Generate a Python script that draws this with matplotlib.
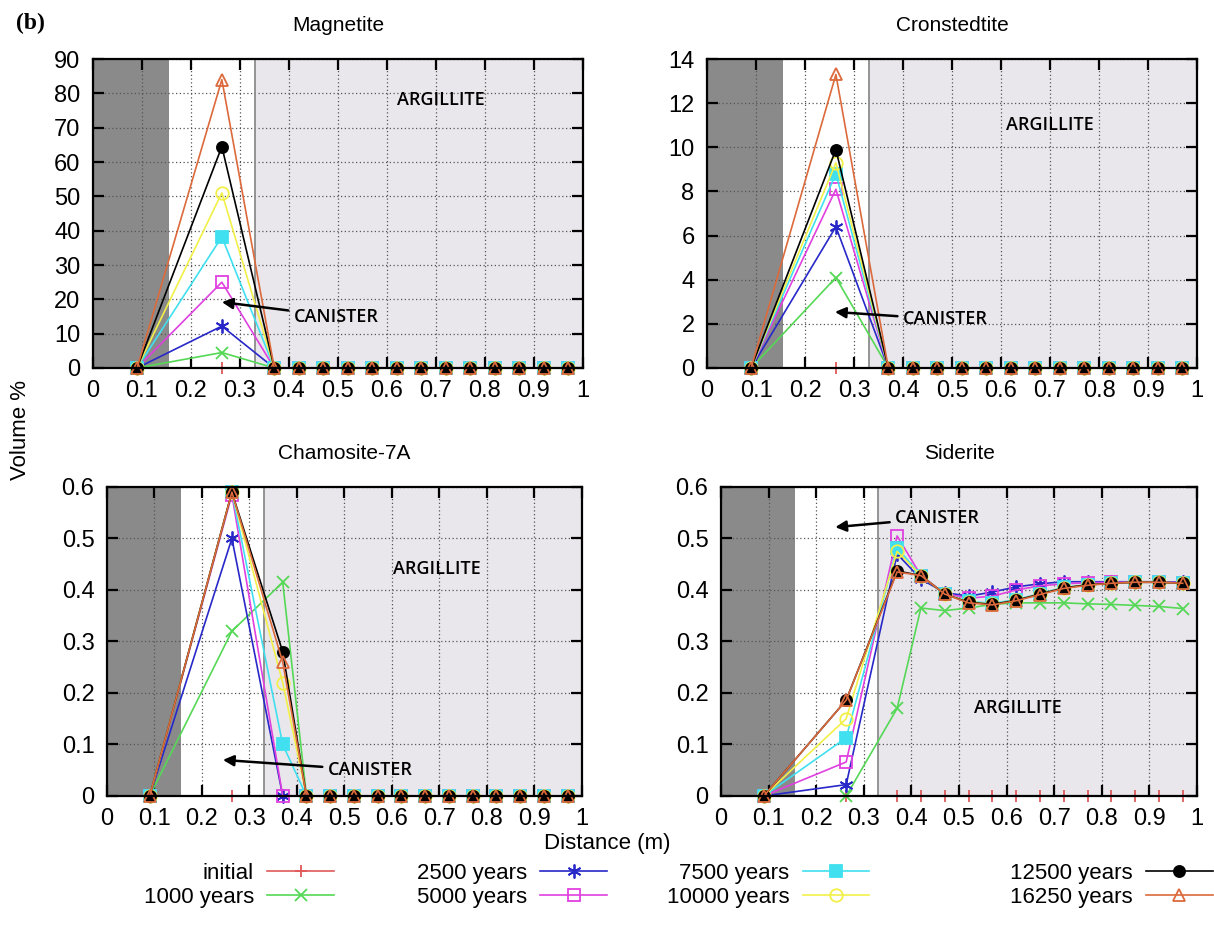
import matplotlib
matplotlib.use("Agg")
import matplotlib.pyplot as plt
import numpy as np

plt.rcParams['font.family'] = ['Liberation Sans', 'DejaVu Sans']

# ---------------- data ----------------
distance = [0.09, 0.263, 0.37, 0.42, 0.47, 0.52, 0.57, 0.62, 0.67, 0.72, 0.77, 0.82, 0.87, 0.92, 0.97]
series_labels = ["initial", "1000 years", "2500 years", "5000 years",
                 "7500 years", "10000 years", "12500 years", "16250 years"]

zeros_tail = [0] * 12
magnetite = {
    "initial":     [0, 0, 0] + zeros_tail,
    "1000 years":  [0, 4.5, 0] + zeros_tail,
    "2500 years":  [0, 12.2, 0] + zeros_tail,
    "5000 years":  [0, 25.0, 0] + zeros_tail,
    "7500 years":  [0, 38.2, 0] + zeros_tail,
    "10000 years": [0, 51.0, 0] + zeros_tail,
    "12500 years": [0, 64.5, 0] + zeros_tail,
    "16250 years": [0, 84.0, 0] + zeros_tail,
}
cronstedtite = {
    "initial":     [0, 0, 0] + zeros_tail,
    "1000 years":  [0, 4.1, 0] + zeros_tail,
    "2500 years":  [0, 6.4, 0] + zeros_tail,
    "5000 years":  [0, 8.1, 0] + zeros_tail,
    "7500 years":  [0, 8.8, 0] + zeros_tail,
    "10000 years": [0, 9.3, 0] + zeros_tail,
    "12500 years": [0, 9.9, 0] + zeros_tail,
    "16250 years": [0, 13.3, 0] + zeros_tail,
}
zeros_tail2 = [0] * 11
chamosite = {
    "initial":     [0, 0, 0, 0] + zeros_tail2,
    "1000 years":  [0, 0.32, 0.415, 0] + zeros_tail2,
    "2500 years":  [0, 0.50, 0.0, 0] + zeros_tail2,
    "5000 years":  [0, 0.585, 0.0, 0] + zeros_tail2,
    "7500 years":  [0, 0.59, 0.10, 0] + zeros_tail2,
    "10000 years": [0, 0.59, 0.22, 0] + zeros_tail2,
    "12500 years": [0, 0.59, 0.28, 0] + zeros_tail2,
    "16250 years": [0, 0.59, 0.26, 0] + zeros_tail2,
}
siderite = {
    "initial":     [0] * 15,
    "1000 years":  [0, 0.0, 0.17, 0.365, 0.36, 0.365, 0.372, 0.375, 0.375, 0.375, 0.373, 0.372, 0.370, 0.368, 0.364],
    "2500 years":  [0, 0.022, 0.47, 0.421, 0.395, 0.388, 0.396, 0.406, 0.412, 0.416, 0.416, 0.416, 0.416, 0.416, 0.415],
    "5000 years":  [0, 0.066, 0.505, 0.428, 0.393, 0.384, 0.388, 0.400, 0.408, 0.412, 0.414, 0.415, 0.415, 0.415, 0.414],
    "7500 years":  [0, 0.113, 0.482, 0.428, 0.392, 0.378, 0.374, 0.381, 0.393, 0.405, 0.410, 0.413, 0.415, 0.415, 0.413],
    "10000 years": [0, 0.150, 0.475, 0.428, 0.392, 0.377, 0.372, 0.380, 0.392, 0.404, 0.410, 0.413, 0.415, 0.415, 0.413],
    "12500 years": [0, 0.186, 0.437, 0.428, 0.392, 0.376, 0.372, 0.380, 0.392, 0.404, 0.410, 0.413, 0.415, 0.415, 0.413],
    "16250 years": [0, 0.186, 0.435, 0.428, 0.392, 0.375, 0.371, 0.379, 0.391, 0.403, 0.409, 0.413, 0.415, 0.415, 0.413],
}

panel_titles = ["Magnetite", "Cronstedtite", "Chamosite-7A", "Siderite"]
panel_data = [magnetite, cronstedtite, chamosite, siderite]
panel_yticks = [np.arange(0, 91, 10), np.arange(0, 15, 2),
                np.round(np.arange(0, 0.61, 0.1), 1), np.round(np.arange(0, 0.61, 0.1), 1)]
panel_ylim = [(0, 90), (0, 14), (0, 0.6), (0, 0.6)]
xticks = np.round(np.arange(0, 1.01, 0.1), 1)

# ---------------- styles ----------------
styles = {
    "initial":     dict(color="#e05a5a", marker="+", mfc="#e05a5a", ms=9),
    "1000 years":  dict(color="#55d855", marker="x", mfc="#55d855", ms=8),
    "2500 years":  dict(color="#2828c8", marker=(6, 2, 0), mfc="#2828c8", ms=10),
    "5000 years":  dict(color="#e040e0", marker="s", mfc="none", ms=9),
    "7500 years":  dict(color="#40e0f0", marker="s", mfc="#40e0f0", ms=8),
    "10000 years": dict(color="#f2f048", marker="o", mfc="none", ms=9),
    "12500 years": dict(color="#000000", marker="o", mfc="#000000", ms=8),
    "16250 years": dict(color="#dc6a3c", marker="^", mfc="none", ms=9),
}

positions = [
    [0.0766, 0.6060, 0.4036, 0.3308],
    [0.5824, 0.6060, 0.4036, 0.3308],
    [0.0881, 0.1478, 0.3913, 0.3308],
    [0.5939, 0.1478, 0.3921, 0.3308],
]

argillite_pos = [(0.71, 78), (0.70, 11.0), (0.695, 0.44), (0.624, 0.17)]
canister_text = [(0.41, 15.0), (0.40, 2.2), (0.465, 0.05), (0.366, 0.54)]
canister_tip = [(0.263, 19.2), (0.261, 2.54), (0.244, 0.07), (0.24, 0.522)]

fig = plt.figure(figsize=(12.14, 9.34), dpi=100)
handles = []
for i in range(4):
    ax = fig.add_axes(positions[i])
    ax.set_xlim(0, 1)
    ax.set_ylim(*panel_ylim[i])
    ax.axvspan(0, 0.155, color="#8a8a8a", zorder=0, lw=0)
    ax.axvspan(0.33, 1, color="#e9e7eb", zorder=0, lw=0)
    ax.axvline(0.33, color="#8c8c8c", lw=1.3, zorder=1)
    ax.grid(True, color="#555555", linestyle=(0, (1, 2)), lw=0.9, zorder=1)
    ax.set_axisbelow(True)
    ax.set_xticks(xticks)
    ax.set_xticklabels(["0" if v == 0 else ("1" if v == 1 else f"{v:g}") for v in xticks])
    ax.set_yticks(panel_yticks[i])
    ax.set_yticklabels([f"{v:g}" for v in panel_yticks[i]])
    ax.tick_params(direction="in", top=True, right=True, length=8, width=1.6,
                   labelsize=17, pad=9)
    for sp in ax.spines.values():
        sp.set_linewidth(1.6)
        sp.set_zorder(5)
    data = panel_data[i]
    for lab in series_labels:
        st = styles[lab]
        h, = ax.plot(distance, data[lab], color=st["color"], lw=1.2,
                     marker=st["marker"], ms=st["ms"], mfc=st["mfc"],
                     mec=st["color"], mew=1.3, zorder=3, clip_on=False,
                     label=lab)
        if i == 0:
            handles.append(h)
    ax.text(0.5, 1.11, panel_titles[i], transform=ax.transAxes, ha="center",
            va="center", fontsize=15)
    ax.text(argillite_pos[i][0], argillite_pos[i][1], "ARGILLITE", ha="center",
            va="center", fontsize=13, family=["Open Sans", "DejaVu Sans"],
            fontweight="semibold", zorder=6)
    ax.annotate("CANISTER", xy=canister_tip[i], xytext=canister_text[i],
                ha="left", va="center", fontsize=13,
                family=["Open Sans", "DejaVu Sans"], fontweight="semibold",
                arrowprops=dict(arrowstyle="-|>", color="black", lw=1.8,
                                mutation_scale=16, shrinkA=2, shrinkB=0),
                zorder=6)

fig.text(0.013, 0.975, "(b)", fontsize=17, fontweight="bold",
         family=["Liberation Serif", "DejaVu Serif"], va="center", ha="left")
fig.text(0.017, 0.54, "Volume %", rotation=90, fontsize=16, ha="center", va="center")
fig.text(0.50, 0.097, "Distance (m)", fontsize=16, ha="center", va="center")

# legend: four right-aligned key columns (gnuplot style)
legend_right_x = [0.275, 0.500, 0.716, 0.999]
for c in range(4):
    leg = fig.legend(handles=handles[2 * c:2 * c + 2],
                     labels=series_labels[2 * c:2 * c + 2],
                     loc="center right", bbox_to_anchor=(legend_right_x[c], 0.052),
                     markerfirst=False, frameon=False, fontsize=16,
                     handlelength=3.0, labelspacing=0.15, handletextpad=0.6,
                     borderaxespad=0, borderpad=0)
    for t in leg.get_texts():
        t.set_ha("right")

fig.savefig("out.png", dpi=100)
